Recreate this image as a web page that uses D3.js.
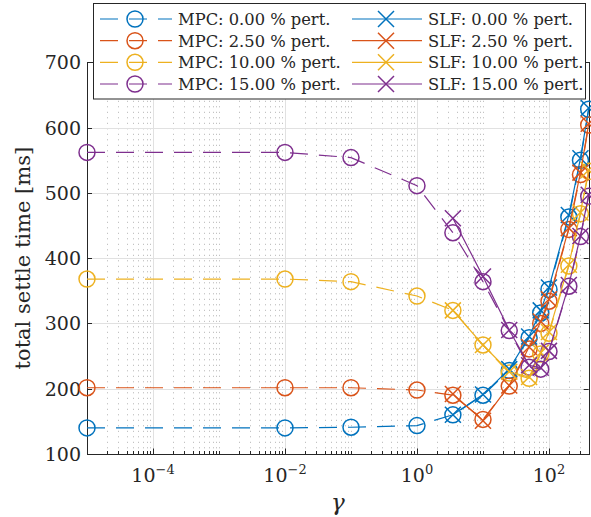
<!DOCTYPE html>
<html><head><meta charset="utf-8">
<script src="https://cdn.jsdelivr.net/npm/d3@7"></script>
<style>
body{margin:0;background:#fff}
svg{display:block}
text{font-family:"DejaVu Serif",serif;fill:#262626}
</style>
</head><body>
<svg id="c" width="591" height="517"></svg>
<script>
// ---------- data ----------
const gamma = [1e-5, 1e-2, 1e-1, 1, 3.5, 10, 25, 50, 75, 100, 200, 300, 400];
const gammaSLF = [3.5, 10, 25, 50, 75, 100, 200, 300, 400];
const mpc0  = [140, 140, 141, 143.5, 160, 190, 228, 278, 316, 352, 463, 550, 628];
const mpc25 = [201.5, 201.5, 201.5, 198, 190, 153, 204, 261, 300, 334, 444, 528, 604];
const mpc10 = [368, 368, 364, 342, 320, 267, 224, 216, 253, 285, 388, 468, 533];
const mpc15 = [562, 562, 554, 511, 439, 364, 289, 233, 230, 257, 357, 433, 495];
const slf0  = [160, 191, 230, 280, 320, 355, 466, 553, 630];
const slf25 = [192, 151, 205, 264, 303, 337, 446, 531, 606];
const slf10 = [320, 267, 226, 218, 255, 287, 390, 470, 535];
const slf15 = [461, 372, 290, 236, 232, 258, 359, 434, 497];
const pertLabels = ["0.00", "2.50", "10.00", "15.00"];
const yTicks = [100, 200, 300, 400, 500, 600, 700];
const xTicks = [1e-4, 1e-2, 1e0, 1e2];
const xTickExp = ["\u22124", "\u22122", "0", "2"];
const colors = ["#0072BD", "#D95319", "#EDB120", "#7E2F8E"];

// ---------- layout ----------
const svg = d3.select("#c");
svg.append("rect").attr("width",591).attr("height",517).attr("fill","#fff");
const L = 87, R = 588.7, T = 62.3, B = 454;
const x = d3.scaleLog().domain([1e-5, 400]).range([L, R]);
const y = d3.scaleLinear().domain([100, 700]).range([B, T]);
const px = v => Math.round(v) + 0.5;

// minor values
const minor = [];
for (let k = -5; k <= 2; k++) for (let j = 1; j <= 9; j++) {
  const v = j * Math.pow(10, k);
  if (v < 1e-5 || v > 400) continue;
  if (j === 1 && k % 2 === 0) continue;
  minor.push(v);
}

const grid = svg.append("g");
grid.selectAll(".mg").data(minor).join("line")
  .attr("x1", d => px(x(d))).attr("x2", d => px(x(d)))
  .attr("y1", T).attr("y2", B)
  .attr("stroke", "#b4b4b4").attr("stroke-width", 1).attr("stroke-dasharray", "1,4.5");
grid.selectAll(".xg").data(xTicks).join("line")
  .attr("x1", d => px(x(d))).attr("x2", d => px(x(d)))
  .attr("y1", T).attr("y2", B)
  .attr("stroke", "#e1e1e1").attr("stroke-width", 1);
grid.selectAll(".yg").data(yTicks).join("line")
  .attr("x1", L).attr("x2", R)
  .attr("y1", d => px(y(d))).attr("y2", d => px(y(d)))
  .attr("stroke", "#e1e1e1").attr("stroke-width", 1);

// axes box and ticks
const ax = svg.append("g").attr("stroke", "#262626").attr("stroke-width", 1).attr("fill","none");
ax.append("rect").attr("x", px(L)).attr("y", px(T)).attr("width", Math.round(R) - Math.round(L)).attr("height", Math.round(B) - Math.round(T));
yTicks.forEach(v => {
  ax.append("line").attr("x1", L).attr("x2", L + 5).attr("y1", px(y(v))).attr("y2", px(y(v)));
  ax.append("line").attr("x1", R - 5).attr("x2", R).attr("y1", px(y(v))).attr("y2", px(y(v)));
});
xTicks.forEach(v => {
  ax.append("line").attr("x1", px(x(v))).attr("x2", px(x(v))).attr("y1", B).attr("y2", B - 5.5);
  ax.append("line").attr("x1", px(x(v))).attr("x2", px(x(v))).attr("y1", T).attr("y2", T + 5.5);
});
minor.forEach(v => {
  ax.append("line").attr("x1", px(x(v))).attr("x2", px(x(v))).attr("y1", B).attr("y2", B - 3);
  ax.append("line").attr("x1", px(x(v))).attr("x2", px(x(v))).attr("y1", T).attr("y2", T + 3);
});

// tick labels
svg.selectAll(".yl").data(yTicks).join("text")
  .attr("x", 81).attr("y", d => y(d) + 7)
  .attr("text-anchor", "end").attr("font-size", 19).text(d => d);
xTicks.forEach((v, i) => {
  const t = svg.append("text").attr("x", x(v)).attr("y", 482)
    .attr("text-anchor", "middle").attr("font-size", 19);
  t.append("tspan").text("10");
  t.append("tspan").attr("dy", -8).attr("font-size", 13).text(xTickExp[i]);
});

// axis labels
svg.append("text").attr("transform", `translate(30,${(T + B) / 2}) rotate(-90)`)
  .attr("text-anchor", "middle").attr("font-size", 21).text("total settle time [ms]");
svg.append("text").attr("x", (L + R) / 2).attr("y", 510)
  .attr("text-anchor", "middle").attr("font-size", 23).attr("font-style", "italic").text("\u03b3");

// ---------- series ----------
const mpcSeries = [mpc0, mpc25, mpc10, mpc15];
const slfSeries = [slf0, slf25, slf10, slf15];
const line = d3.line().x(d => x(d[0])).y(d => y(d[1]));
const R_M = 8;

function drawCircle(g, cx, cy, c) {
  g.append("circle").attr("cx", cx).attr("cy", cy).attr("r", R_M)
    .attr("fill", "none").attr("stroke", c).attr("stroke-width", 1.5);
}
function drawX(g, cx, cy, c) {
  const s = R_M;
  g.append("path").attr("d", `M${cx - s},${cy - s}L${cx + s},${cy + s}M${cx - s},${cy + s}L${cx + s},${cy - s}`)
    .attr("fill", "none").attr("stroke", c).attr("stroke-width", 1.5);
}

mpcSeries.forEach((s, i) => {
  const g = svg.append("g");
  const pts = gamma.map((gm, j) => [gm, s[j]]);
  g.append("path").attr("d", line(pts)).attr("fill", "none").attr("stroke", colors[i])
    .attr("stroke-width", 1.2).attr("stroke-dasharray", "18,11");
  pts.forEach(p => drawCircle(g, x(p[0]), y(p[1]), colors[i]));
});
slfSeries.forEach((s, i) => {
  const g = svg.append("g");
  const pts = gammaSLF.map((gm, j) => [gm, s[j]]);
  g.append("path").attr("d", line(pts)).attr("fill", "none").attr("stroke", colors[i])
    .attr("stroke-width", 1.2);
  pts.forEach(p => drawX(g, x(p[0]), y(p[1]), colors[i]));
});

// ---------- legend ----------
const lg = svg.append("g");
lg.append("rect").attr("x", 93.5).attr("y", 3.5).attr("width", 492).attr("height", 95.5)
  .attr("fill", "#fff").attr("stroke", "#262626").attr("stroke-width", 1);
const rowY = [19, 40.7, 62.3, 84];
pertLabels.forEach((p, i) => {
  const yy = rowY[i];
  lg.append("line").attr("x1", 100).attr("x2", 172).attr("y1", yy).attr("y2", yy)
    .attr("stroke", colors[i]).attr("stroke-width", 1.2).attr("stroke-dasharray", "18,11");
  drawCircle(lg, 135, yy, colors[i]);
  lg.append("text").attr("x", 178).attr("y", yy + 6).attr("font-size", 16.3).text(`MPC: ${p} % pert.`);
  lg.append("line").attr("x1", 352).attr("x2", 422).attr("y1", yy).attr("y2", yy)
    .attr("stroke", colors[i]).attr("stroke-width", 1.2);
  drawX(lg, 386, yy, colors[i]);
  lg.append("text").attr("x", 428).attr("y", yy + 6).attr("font-size", 16.3).text(`SLF: ${p} % pert.`);
});
</script>
</body></html>
